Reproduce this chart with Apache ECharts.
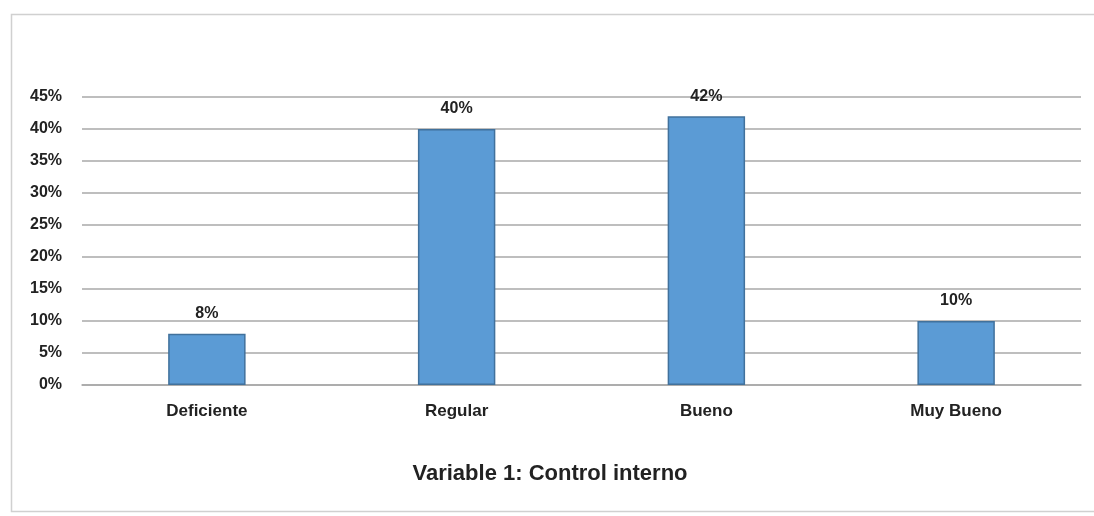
<!DOCTYPE html>
<html><head><meta charset="utf-8">
<script src="https://cdn.jsdelivr.net/npm/echarts@6/dist/echarts.min.js"></script>
<style>html,body{margin:0;padding:0;background:#fff}#c{width:1094px;height:516px}</style>
</head><body><div id="c"></div>
<script>
const categories = ['Deficiente', 'Regular', 'Bueno', 'Muy Bueno'];
const values = [8, 40, 42, 10];
const yTicks = [0, 5, 10, 15, 20, 25, 30, 35, 40, 45];
const titleText = 'Variable 1: Control interno';

const FONT = '"Liberation Sans Narrow", "Arial Narrow", "Liberation Sans", Arial, sans-serif';
const chart = echarts.init(document.getElementById('c'));
chart.setOption({
  animation: false,
  backgroundColor: '#fff',
  graphic: [{
    type: 'rect', shape: {x: 11.5, y: 14.5, width: 1100, height: 497},
    style: {fill: 'none', stroke: '#d0d0d0', lineWidth: 1.5}, silent: true
  }],
  title: {
    text: titleText, left: 545, textAlign: 'center', top: 458,
    textStyle: {fontFamily: FONT, fontWeight: 'bold', fontSize: 22, color: '#222'}
  },
  grid: {left: 82, right: 13, top: 97, bottom: 131, containLabel: false},
  xAxis: {
    type: 'category', data: categories,
    axisLine: {show: true, lineStyle: {color: '#a8a8a8', width: 1.5}},
    axisTick: {show: false},
    axisLabel: {margin: 18, fontFamily: FONT, fontWeight: 'bold', fontSize: 17, color: '#222'}
  },
  yAxis: {
    type: 'value', min: yTicks[0], max: yTicks[yTicks.length - 1], interval: 5,
    axisLine: {show: false}, axisTick: {show: false},
    axisLabel: {margin: 20, formatter: '{value}%', fontFamily: FONT, fontWeight: 'bold', fontSize: 16, color: '#222'},
    splitLine: {lineStyle: {color: '#a8a8a8', width: 1.5}}
  },
  series: [{
    type: 'bar', data: values, barWidth: '31%',
    itemStyle: {color: '#5B9BD5', borderColor: '#41719C', borderWidth: 1.5},
    label: {show: true, position: 'top', distance: 12, formatter: '{c}%',
      fontFamily: FONT, fontWeight: 'bold', fontSize: 16, color: '#222'}
  }]
});
</script></body></html>
